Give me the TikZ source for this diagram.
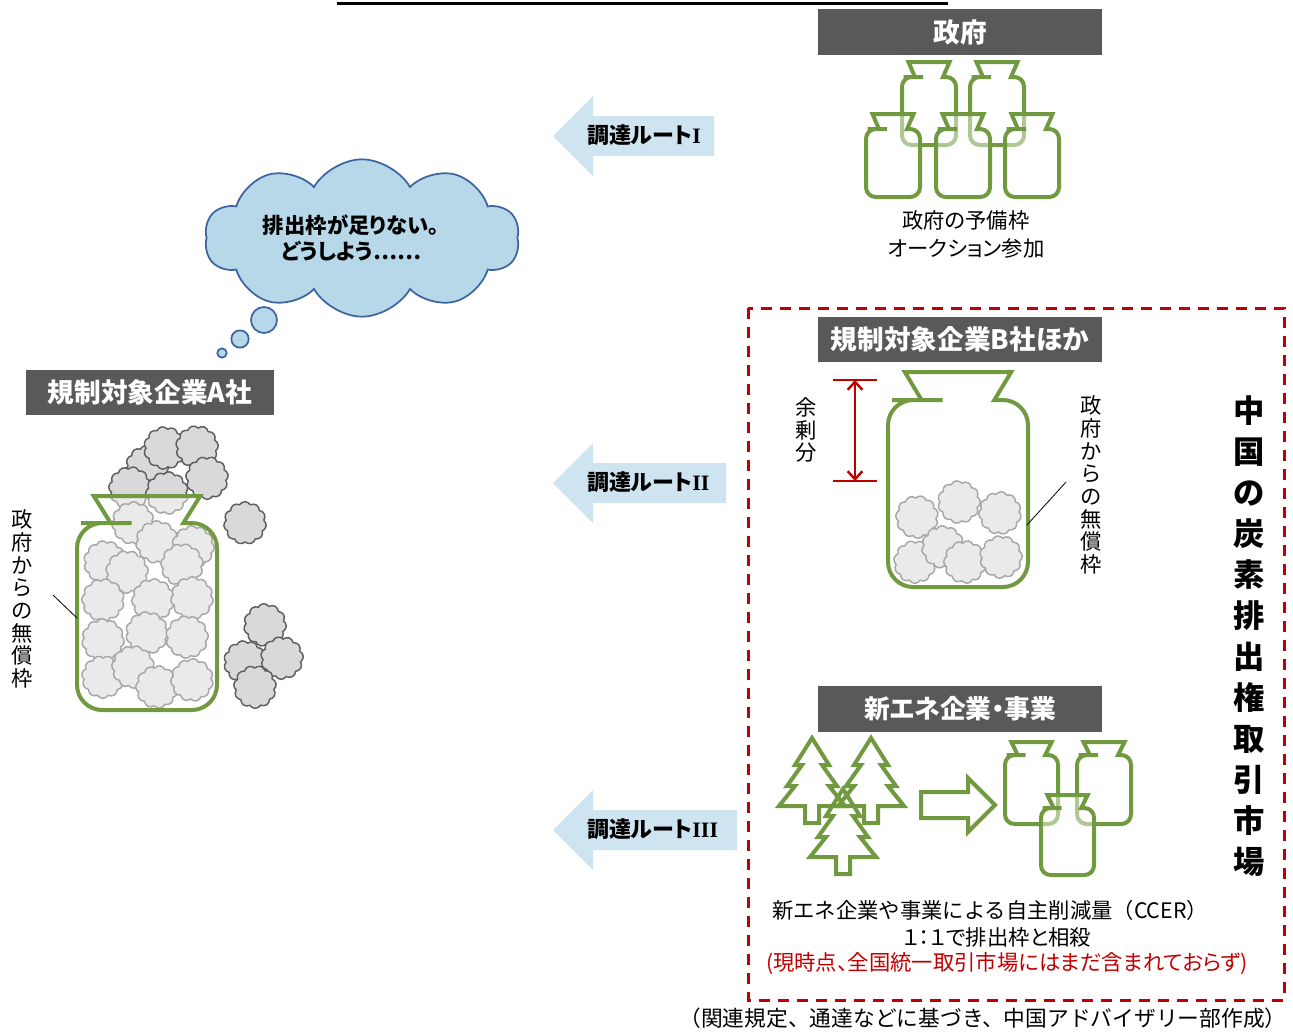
\documentclass[tikz,border=0pt]{standalone}
\usepackage{fontspec}
\setmainfont{Noto Sans CJK JP}
\newfontfamily\jpp{Noto Sans CJK JP}[RawFeature=+palt]
\newfontfamily\romanI{Liberation Serif}
\usetikzlibrary{shapes.symbols,arrows.meta}

\definecolor{hdrgray}{RGB}{89,89,89}
\definecolor{jargreen}{RGB}{112,153,64}
\definecolor{routeblue}{RGB}{206,228,240}
\definecolor{thinkfill}{RGB}{183,216,232}
\definecolor{thinkline}{RGB}{60,100,160}
\definecolor{markred}{RGB}{192,0,0}
\definecolor{puffgray}{RGB}{217,217,217}
\definecolor{puffline}{RGB}{95,95,95}

% jar outline: #1 options, #2 left x, #3 top y, #4 body width, #5 height, #6 neck height
\newcommand\jarshape[6]{%
  \pgfmathsetmacro\jL{#2}%
  \pgfmathsetmacro\jR{#2+#4}%
  \pgfmathsetmacro\jT{#3}%
  \pgfmathsetmacro\jB{#3+#5}%
  \pgfmathsetmacro\jN{#3+#6}%
  \pgfmathsetmacro\jtl{#2+0.12*#4}%
  \pgfmathsetmacro\jtr{#2+0.88*#4}%
  \pgfmathsetmacro\jbl{#2+0.24*#4}%
  \pgfmathsetmacro\jbr{#2+0.76*#4}%
  \pgfmathsetmacro\jml{#2+0.21*#4}%
  \pgfmathsetmacro\jmr{#2+0.79*#4}%
  \pgfmathsetmacro\jrad{0.18*#4*0.75}%
  \path[#1] (\jmr,\jN) [rounded corners=\jrad pt] -- (\jR,\jN) -- (\jR,\jB)
    -- (\jL,\jB) -- (\jL,\jN) -- (\jml,\jN) [sharp corners] -- (\jbl,\jN)
    -- (\jtl,\jT) -- (\jtr,\jT) -- (\jbr,\jN) -- cycle;
}

% fir tree outline with its apex at (#1,#2)
\newcommand\firtree[2]{%
  \draw[treeline, shift={(#1,#2)}] (0,0) -- (17,27) -- (10,27) -- (25,48) -- (17,48)
    -- (33,68) -- (7,68) -- (7,85) -- (-7,85) -- (-7,68) -- (-33,68) -- (-17,48)
    -- (-25,48) -- (-10,27) -- (-17,27) -- cycle;
}

\begin{document}
\begin{tikzpicture}[x=0.75pt,y=-0.75pt,
  hdr/.style={fill=hdrgray, text=white, font=\jpp\fontsize{20}{22}\selectfont\bfseries,
    inner sep=0pt, minimum width=213pt, minimum height=34.5pt},
  routetext/.style={anchor=west, font=\jpp\fontsize{16.5}{18}\selectfont\bfseries, inner sep=0pt},
  bodytext/.style={font=\fontsize{16}{21}\selectfont, inner sep=0pt, align=center},
  vtext/.style={font=\fontsize{16}{17}\selectfont, align=center, inner sep=0pt},
  jarline/.style={draw=jargreen, line width=3pt},
  jarfront/.style={draw=jargreen, line width=3pt, fill=white, fill opacity=0.45},
  treeline/.style={draw=jargreen, line width=3pt},
  puff/.style={cloud, cloud puffs=11, cloud puff arc=120, aspect=1, draw=puffline,
    fill=puffgray, line width=1.1pt, minimum width=32pt, minimum height=32pt, inner sep=0pt},
  bubble/.style={circle, draw=thinkline, fill=thinkfill, line width=1.3pt, inner sep=0pt},
  leader/.style={draw=black, line width=0.6pt},
]
\useasboundingbox (0,0) rectangle (1293,1033);

% title rule
\draw[line width=2pt] (337,3.5) -- (948,3.5);

% ---------- government ----------
\node[hdr] (gov) at (960,32) {政府};
\jarshape{jarline}{902}{62}{54}{83}{15}
\jarshape{jarline}{970}{62}{54}{83}{15}
\jarshape{jarfront}{866}{114}{54}{83}{15}
\jarshape{jarfront}{936}{114}{54}{83}{15}
\jarshape{jarfront}{1005}{114}{54}{83}{15}
\node[bodytext, font=\jpp\fontsize{16}{21}\selectfont] (govlbl) at (966,234) {政府の予備枠\\オークション参加};

% ---------- procurement routes ----------
\fill[routeblue] (553,136) -- (593,96) -- (593,116) -- (714,116) -- (714,156)
  -- (593,156) -- (593,176) -- cycle;
\node[routetext] (r1) at (587,135) {調達ルート{\romanI I}};
\fill[routeblue] (553,483) -- (593,443) -- (593,463) -- (726,463) -- (726,503)
  -- (593,503) -- (593,523) -- cycle;
\node[routetext] (r2) at (587,482) {調達ルート{\romanI II}};
\fill[routeblue] (553,830) -- (593,790) -- (593,810) -- (737,810) -- (737,850)
  -- (593,850) -- (593,870) -- cycle;
\node[routetext] (r3) at (587,829) {調達ルート{\romanI III}};

% ---------- thought bubble ----------
\node[cloud, cloud puffs=10, cloud puff arc=120, aspect=2.1, draw=thinkline,
  fill=thinkfill, line width=1.3pt, minimum width=236pt, minimum height=118pt]
  (think) at (362,238) {};
\node[font=\jpp\fontsize{16}{20}\selectfont\bfseries, align=center, inner sep=0pt]
  (thinktxt) at (351,238) {排出枠が足りない。\\どうしよう……};
\node[bubble, minimum size=19.5pt] (b1) at (264,320) {};
\node[bubble, minimum size=13pt] (b2) at (240,339) {};
\node[bubble, minimum size=7pt] (b3) at (222,353) {};

% ---------- company A ----------
\node[hdr, minimum width=186pt, minimum height=33.75pt] (coA) at (150,392.5) {規制対象企業A社};
\foreach \x/\y [count=\i] in {147/467, 165/448, 197/447, 207/478, 130/488, 167/493,
    133/523, 157/542, 193/547, 105/562, 127/572, 182/565, 103/600, 153/600, 192/598,
    103/640, 147/633, 187/637, 103/677, 133/667, 157/687, 192/680,
    245/523, 265/625, 245/662, 282/658, 255/687}
  \node[puff, rotate=\i*37] (pa\i) at (\x,\y) {};
\jarshape{jarfront}{77}{496}{140}{214}{27}
\node[vtext] (lblA) at (22,599) {政\\府\\か\\ら\\の\\無\\償\\枠};
\coordinate (la1) at (53,595);
\coordinate (la2) at (77,618);
\draw[leader] (la1) -- (la2);

% ---------- market frame ----------
\draw[markred, line width=2.25pt, dash pattern=on 8.25pt off 6pt] (748,308) rectangle (1284,1000);
\node[font=\fontsize{23.5}{30.75}\selectfont\bfseries, align=center, inner sep=0pt]
  (market) at (1249,636) {中\\国\\の\\炭\\素\\排\\出\\権\\取\\引\\市\\場};

% ---------- company B ----------
\node[hdr, minimum height=33.75pt] (coB) at (960,339.5) {規制対象企業B社ほか};
\foreach \x/\y [count=\i] in {917/517, 959/502, 1000/513, 915/562, 943/547, 965/562, 1001/557}
  \node[puff, rotate=\i*53] (pb\i) at (\x,\y) {};
\jarshape{jarfront}{888}{372}{140}{215}{28}
\coordinate (st1) at (833,380);
\coordinate (st2) at (877,380);
\coordinate (sb1) at (833,481);
\coordinate (sb2) at (877,481);
\coordinate (sat) at (855,380);
\coordinate (sab) at (855,481);
\draw[markred, line width=1.8pt] (st1) -- (st2);
\draw[markred, line width=1.8pt] (sb1) -- (sb2);
\draw[markred, line width=1.8pt, {Straight Barb[length=6pt,width=11pt]}-{Straight Barb[length=6pt,width=11pt]}]
  (sat) -- (sab);
\node[vtext] (surplus) at (806,430) {余\\剰\\分};
\node[vtext] (lblB) at (1091,485) {政\\府\\か\\ら\\の\\無\\償\\枠};
\coordinate (lb1) at (1066,482);
\coordinate (lb2) at (1027,525);
\draw[leader] (lb1) -- (lb2);

% ---------- new energy ----------
\node[hdr, font=\jpp\fontsize{19.3}{22}\selectfont\bfseries] (newe) at (960,709) {新エネ企業・事業};
\firtree{812}{738}
\firtree{871}{738}
\firtree{843}{789}
\draw[treeline, fill=white] (921,792) -- (968,792) -- (968,778) -- (995,805)
  -- (968,832) -- (968,818) -- (921,818) -- cycle;
\jarshape{jarline}{1005}{742}{53}{82}{13}
\jarshape{jarline}{1077}{742}{54}{82}{13}
\jarshape{jarfront}{1041}{795}{53}{80}{13}
\node[bodytext] (ccer1) at (990,910) {新エネ企業や事業による自主削減量（CCER）};
\node[bodytext, font=\jpp\fontsize{16}{21}\selectfont] (ccer2) at (997,937) {１：１で排出枠と相殺};
\node[bodytext, font=\jpp\fontsize{16}{21}\selectfont, text=markred] (ccer3) at (1007,964) {(現時点、全国統一取引市場にはまだ含まれておらず)};

% source note
\node[bodytext, font=\fontsize{16.3}{20}\selectfont] (src) at (983,1018) {（関連規定、通達などに基づき、中国アドバイザリー部作成）};
\end{tikzpicture}
\end{document}
